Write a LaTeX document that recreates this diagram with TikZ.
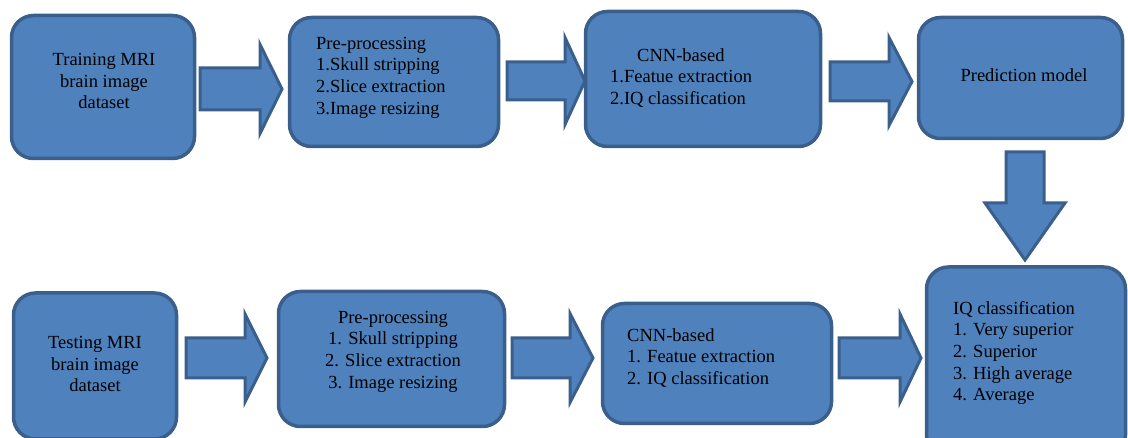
\documentclass[tikz,border=0pt]{standalone}
\usepackage{fontspec}
\setmainfont{Liberation Serif}
\definecolor{boxfill}{HTML}{4F81BD}
\definecolor{boxline}{HTML}{3A5F8C}
\tikzset{
  box/.style={draw=boxline, fill=boxfill, line width=3.5pt, rounded corners=22pt, rectangle, inner sep=0pt},
  barrow/.style={draw=boxline, fill=boxfill, line width=3pt, line join=miter},
  txt/.style={font=\rmfamily\fontsize{18.5}{21.6}\selectfont, text=black, inner sep=0pt},
}
\newcommand{\HArrow}[6]{% x0, xb, xt, yc, hs, hh
  \draw[barrow] ({#1},{#4-#5}) -- ({#2},{#4-#5}) -- ({#2},{#4-#6}) -- ({#3},{#4})
    -- ({#2},{#4+#6}) -- ({#2},{#4+#5}) -- ({#1},{#4+#5}) -- cycle;}
\newcommand{\VArrow}[6]{% y0, yb, yt, xc, hs, hh
  \draw[barrow] ({#4-#5},{#1}) -- ({#4-#5},{#2}) -- ({#4-#6},{#2}) -- ({#4},{#3})
    -- ({#4+#6},{#2}) -- ({#4+#5},{#2}) -- ({#4+#5},{#1}) -- cycle;}
\begin{document}
\begin{tikzpicture}[x=1pt,y=-1pt]
\useasboundingbox (0,0) rectangle (1128,438);
% boxes
\node[box, minimum width=183pt, minimum height=143pt] (b1) at (103,87) {};
\node[box, minimum width=209pt, minimum height=129pt] (b2) at (394,82) {};
\node[box, minimum width=235pt, minimum height=135pt] (b3) at (703,79) {};
\node[box, minimum width=204pt, minimum height=121pt] (b4) at (1020.5,78) {};
\node[box, minimum width=163pt, minimum height=146pt] (b5) at (95,366) {};
\node[box, minimum width=226pt, minimum height=135pt] (b6) at (391.5,359) {};
\node[box, minimum width=229pt, minimum height=120pt] (b7) at (717,363.5) {};
\node[box, minimum width=199pt, minimum height=190pt] (b8) at (1026,362) {};
% texts
\node[txt, align=center] (t1) at (104,81) {Training MRI\\brain image\\dataset};
\node[txt, align=left, anchor=west] (t2) at (316,77.5) {Pre-processing\\1.Skull stripping\\2.Slice extraction\\3.Image resizing};
\node[txt, align=left, anchor=west] (t3) at (610,78) {\hspace*{27pt}CNN-based\\1.Featue extraction\\2.IQ classification};
\node[txt] (t4) at (1024,75) {Prediction model};
\node[txt, align=center] (t5) at (95,364) {Testing MRI\\brain image\\dataset};
\node[txt, align=center] (t6) at (393,351.5) {Pre-processing\\1. Skull stripping\\2. Slice extraction\\3. Image resizing};
\node[txt, align=left, anchor=west] (t7) at (627,358) {CNN-based\\1. Featue extraction\\2. IQ classification};
\node[txt, align=left, anchor=west] (t8) at (953,353) {IQ classification\\1. Very superior\\2. Superior\\3. High average\\4. Average};
% block arrows
\HArrow{200}{260}{282}{89}{21}{44.5}
\HArrow{507}{565}{585}{81}{19}{43.5}
\HArrow{830}{889}{912}{81.5}{19.5}{44}
\VArrow{152}{203}{260}{1025}{19}{40}
\HArrow{186}{245}{267}{358}{20}{44}
\HArrow{512}{570}{593}{358}{20}{44.5}
\HArrow{839}{900}{921}{358}{20}{44}
\end{tikzpicture}
\end{document}
